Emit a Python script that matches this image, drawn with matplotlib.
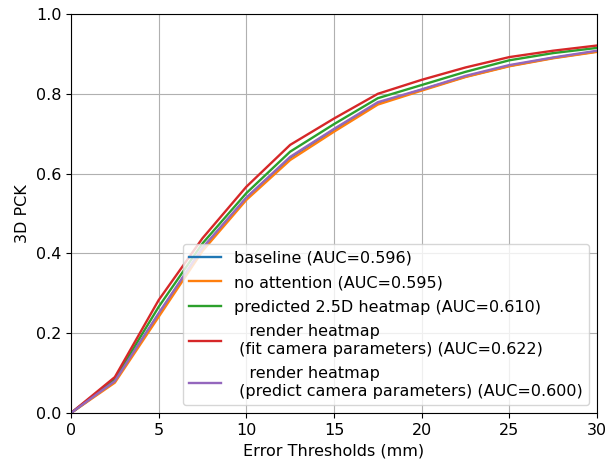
import matplotlib
matplotlib.use('Agg')
import matplotlib.pyplot as plt

thresholds = [0, 2.5, 5, 7.5, 10, 12.5, 15, 17.5, 20, 22.5, 25, 27.5, 30]

baseline = [0, 0.080, 0.248, 0.412, 0.538, 0.640, 0.710, 0.776, 0.810, 0.843, 0.870, 0.890, 0.906]
no_attention = [0, 0.076, 0.241, 0.406, 0.534, 0.634, 0.705, 0.773, 0.808, 0.842, 0.869, 0.889, 0.905]
predicted_25d = [0, 0.085, 0.266, 0.425, 0.551, 0.655, 0.724, 0.789, 0.822, 0.855, 0.884, 0.902, 0.915]
render_fit = [0, 0.090, 0.283, 0.438, 0.567, 0.672, 0.738, 0.800, 0.835, 0.866, 0.892, 0.908, 0.921]
render_predict = [0, 0.080, 0.250, 0.414, 0.540, 0.642, 0.712, 0.779, 0.811, 0.845, 0.872, 0.891, 0.908]

labels = [
    'baseline (AUC=0.596)',
    'no attention (AUC=0.595)',
    'predicted 2.5D heatmap (AUC=0.610)',
    '   render heatmap\n (fit camera parameters) (AUC=0.622)',
    '   render heatmap\n (predict camera parameters) (AUC=0.600)',
]
series = [baseline, no_attention, predicted_25d, render_fit, render_predict]

plt.rcParams['font.size'] = 11.5

fig = plt.figure(figsize=(6.05, 4.61), dpi=100)
ax = fig.add_axes([71 / 605, 48 / 461, 526 / 605, 399 / 461])
for values, label in zip(series, labels):
    ax.plot(thresholds, values, label=label, linewidth=1.7)

ax.set_xlim(0, 30)
ax.set_ylim(0, 1)
ax.set_xlabel('Error Thresholds (mm)')
ax.set_ylabel('3D PCK')
ax.grid()
ax.legend(loc='lower right', labelspacing=0.6)
fig.savefig('out.png', dpi=100)
